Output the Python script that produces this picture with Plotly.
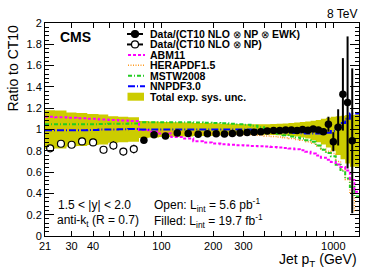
import math
import plotly.graph_objects as go

# ---------------- data ----------------
edges = [21, 24, 28, 32, 37, 43, 49, 56, 64, 74, 84, 97, 114, 133, 153, 174, 196, 220, 245, 272,
         300, 330, 362, 395, 430, 468, 507, 548, 592, 638, 686, 737, 790, 846, 905, 967, 1032,
         1101, 1172, 1248, 1327, 1410]

open_vals = [0.823, 0.866, 0.857, 0.888, 0.879, 0.81, 0.85, 0.793, 0.816]
open_errs = [0.01, 0.01, 0.01, 0.01, 0.01, 0.035, 0.04, 0.035, 0.04]

filled_vals = [0.90, 0.95, 0.938, 0.967, 0.962, 0.955, 0.96, 0.96, 0.958, 0.962, 0.968, 0.972,
               0.975, 0.98, 0.985, 0.99, 0.99, 0.995, 0.995, 0.99, 1.0, 0.994, 1.005, 0.995,
               0.98, 1.05, 0.885, 1.02, 1.33, 1.254, 0.894]
filled_errs = [0.005] * 22 + [0.01, 0.015, 0.02, 0.07, 0.09, 0.17, 0.34, 0.62, 0.68]

abm11 = [1.12, 1.115, 1.11, 1.105, 1.10, 1.095, 1.09, 1.085, 1.08,
         0.995, 0.98, 0.963, 0.93, 0.915, 0.89, 0.878, 0.868, 0.862, 0.857, 0.853, 0.85, 0.846,
         0.843, 0.84, 0.836, 0.832, 0.827, 0.822, 0.815, 0.805, 0.79, 0.775, 0.755, 0.735,
         0.715, 0.695, 0.672, 0.648, 0.615, 0.525, 0.415]
herapdf = [1.0, 1.0, 1.0, 1.0, 1.0, 1.0, 1.0, 1.0, 1.0,
           0.99, 0.99, 0.985, 0.98, 0.975, 0.97, 0.965, 0.96, 0.958, 0.955, 0.953, 0.95, 0.948,
           0.945, 0.94, 0.935, 0.93, 0.922, 0.915, 0.907, 0.9, 0.885, 0.87, 0.845, 0.815,
           0.795, 0.775, 0.70, 0.62, 0.53, 0.40, 0.24]
mstw = [1.05, 1.05, 1.05, 1.05, 1.05, 1.052, 1.055, 1.055, 1.057,
        1.067, 1.067, 1.067, 1.067, 1.067, 1.065, 1.063, 1.06, 1.058, 1.055, 1.05, 1.045, 1.035,
        1.02, 1.0, 0.98, 0.96, 0.945, 0.935, 0.925, 0.915, 0.9, 0.885, 0.85, 0.81,
        0.78, 0.75, 0.67, 0.61, 0.54, 0.46, 0.37]
nnpdf = [0.994, 0.994, 0.994, 0.994, 0.995, 1.0, 1.0, 1.002, 1.005,
         1.0, 1.0, 1.0, 1.0, 1.0, 1.0, 1.0, 1.0, 1.0, 1.0, 1.0, 1.0, 0.998,
         0.995, 0.99, 0.985, 0.98, 0.975, 0.97, 0.968, 0.965, 0.962, 0.962, 0.962, 0.965,
         0.97, 0.985, 1.03, 1.06, 1.10, 1.15, 1.15]
unc_up = [0.18, 0.178, 0.16, 0.155, 0.145, 0.14, 0.125, 0.12, 0.115,
          0.08, 0.075, 0.07, 0.068, 0.065, 0.062, 0.06, 0.058, 0.055, 0.053, 0.052, 0.05, 0.05,
          0.05, 0.05, 0.052, 0.054, 0.056, 0.06, 0.065, 0.07, 0.075, 0.082, 0.09, 0.10,
          0.11, 0.12, 0.125, 0.13, 0.135, 0.135, 0.14]
unc_dn = [0.18, 0.178, 0.16, 0.155, 0.145, 0.14, 0.125, 0.12, 0.115,
          0.08, 0.075, 0.07, 0.068, 0.065, 0.062, 0.06, 0.058, 0.055, 0.053, 0.052, 0.05, 0.05,
          0.05, 0.05, 0.052, 0.054, 0.056, 0.06, 0.065, 0.075, 0.085, 0.10, 0.12, 0.14,
          0.17, 0.20, 0.24, 0.28, 0.32, 0.35, 0.35]

x_ticks = [21, 30, 40, 100, 200, 300, 1000]
x_minor = [50, 60, 70, 80, 90, 400, 500, 600, 700, 800, 900]
x_major_long = [100, 1000]

# ---------------- derived ----------------
centers = [(edges[i] + edges[i + 1]) / 2 for i in range(len(edges) - 1)]
n_open = len(open_vals)
x_open = centers[:n_open]
x_fill = centers[n_open:n_open + len(filled_vals)]


def step_y(vals):
    return list(vals) + [vals[-1]]


BAND = "rgb(204,204,0)"
MAG = "#ff00ff"
ORA = "#ff9a1f"
GRN = "#22cc22"
BLU = "#0000ff"

fig = go.Figure()

# uncertainty band
fig.add_trace(go.Scatter(x=edges, y=step_y([1 - d for d in unc_dn]), mode="lines",
                         line=dict(width=0, shape="hv", color=BAND), showlegend=False, hoverinfo="skip"))
fig.add_trace(go.Scatter(x=edges, y=step_y([1 + u for u in unc_up]), mode="lines",
                         line=dict(width=0, shape="hv", color=BAND), fill="tonexty",
                         fillcolor=BAND, showlegend=False, hoverinfo="skip"))

# theory curves
styles = [
    (herapdf, ORA, "1px,1.5px", 1.5),
    (mstw, GRN, "4px,2px,1px,2px", 2),
    (abm11, MAG, "3px,2px", 2),
    (nnpdf, BLU, "7px,2px,1px,2px", 2),
]
for vals, col, dash, w in styles:
    fig.add_trace(go.Scatter(x=edges, y=step_y(vals), mode="lines",
                             line=dict(color=col, dash=dash, width=w, shape="hv"),
                             showlegend=False, hoverinfo="skip"))

# data
fig.add_trace(go.Scatter(x=x_open, y=open_vals, mode="markers",
                         error_y=dict(type="data", array=open_errs, color="black", thickness=1.5, width=0),
                         marker=dict(symbol="circle", size=7, color="white", line=dict(color="black", width=1.2)),
                         showlegend=False))
fig.add_trace(go.Scatter(x=x_fill, y=filled_vals, mode="markers",
                         error_y=dict(type="data", array=filled_errs, color="black", thickness=2, width=0),
                         marker=dict(symbol="circle", size=7.5, color="black"),
                         showlegend=False))

# ---------------- layout ----------------
L, R, T, B = 45, 15, 23, 34
W, H = 374, 270
PW, PH = W - L - R, H - T - B


def xp(px):
    return (px - L) / PW


def yp(py):
    return (H - B - py) / PH


FONT = "Liberation Sans, Arial, Helvetica, sans-serif"
xr = [math.log10(edges[0]), math.log10(edges[-1])]

fig.update_layout(
    width=W, height=H, margin=dict(l=L, r=R, t=T, b=B, autoexpand=False),
    paper_bgcolor="white", plot_bgcolor="white",
    font=dict(family=FONT, size=11, color="black"),
    showlegend=False,
    xaxis=dict(type="log", range=xr, tickmode="array", tickvals=x_ticks, ticktext=[str(v) for v in x_ticks],
               ticks="inside", ticklen=5, tickcolor="black", showline=True, linecolor="black", linewidth=1,
               mirror="allticks", showgrid=False, zeroline=False, tickfont=dict(size=11),
               minor=dict(tickmode="array", tickvals=x_minor, ticks="inside", ticklen=5, tickcolor="black",
                          showgrid=False)),
    xaxis2=dict(type="log", range=xr, overlaying="x", anchor="y", side="bottom", tickmode="array",
                tickvals=x_major_long, ticks="inside", ticklen=9, tickcolor="black", showticklabels=False,
                showline=False, mirror="allticks", showgrid=False, zeroline=False),
    yaxis=dict(range=[0, 2], dtick=0.2, ticks="inside", ticklen=9, tickcolor="black", showline=True,
               linecolor="black", linewidth=1, mirror="allticks", showgrid=False, zeroline=False,
               tickfont=dict(size=11),
               minor=dict(dtick=0.04, ticks="inside", ticklen=4, tickcolor="black", showgrid=False)),
)

ann = []
ann.append(dict(text="8 TeV", x=1, y=yp(14), xref="paper", yref="paper", xanchor="right", yanchor="middle",
                showarrow=False, font=dict(size=12)))
ann.append(dict(text="<b>CMS</b>", x=xp(58), y=yp(37), xref="paper", yref="paper", xanchor="left",
                yanchor="middle", showarrow=False, font=dict(size=14)))
ann.append(dict(text="Ratio to CT10", x=xp(12), y=1, xref="paper", yref="paper", xanchor="center",
                yanchor="top", textangle=-90, showarrow=False, font=dict(size=14)))
ann.append(dict(text="Jet p<sub>T</sub> (GeV)", x=1, y=yp(260), xref="paper", yref="paper", xanchor="right",
                yanchor="middle", showarrow=False, font=dict(size=14)))
ann.append(dict(text="1.5 < |y| < 2.0", x=xp(56), y=yp(205), xref="paper", yref="paper", xanchor="left",
                yanchor="middle", showarrow=False, font=dict(size=12)))
ann.append(dict(text="anti-k<sub>t</sub> (R = 0.7)", x=xp(55), y=yp(221), xref="paper", yref="paper",
                xanchor="left", yanchor="middle", showarrow=False, font=dict(size=12)))
ann.append(dict(text="Open: L<sub>int</sub> = 5.6 pb<sup>-1</sup>", x=xp(152), y=yp(205), xref="paper",
                yref="paper", xanchor="left", yanchor="middle", showarrow=False, font=dict(size=12)))
ann.append(dict(text="Filled: L<sub>int</sub> = 19.7 fb<sup>-1</sup>", x=xp(152), y=yp(221), xref="paper",
                yref="paper", xanchor="left", yanchor="middle", showarrow=False, font=dict(size=12)))

OT = "<span style='font-size:10px;font-weight:normal'>\u2297</span>"
legend_labels = ["Data/(CT10 NLO " + OT + " NP " + OT + " EWK)", "Data/(CT10 NLO " + OT + " NP)", "ABM11",
                 "HERAPDF1.5", "MSTW2008", "NNPDF3.0", "Total exp. sys. unc."]
row_y = [34 + 10.45 * i for i in range(len(legend_labels))]
shapes = []
for i, (lab, ry) in enumerate(zip(legend_labels, row_y)):
    ann.append(dict(text="<b>%s</b>" % lab, x=xp(148), y=yp(ry), xref="paper", yref="paper", xanchor="left",
                    yanchor="middle", showarrow=False, font=dict(size=10.5)))
    if i in (0, 1):
        shapes.append(dict(type="line", xref="paper", yref="paper", x0=xp(127), x1=xp(143), y0=yp(ry), y1=yp(ry),
                           line=dict(color="black", width=2)))
        shapes.append(dict(type="circle", xref="paper", yref="paper", x0=xp(131.5), x1=xp(138.5),
                           y0=yp(ry + 3.5), y1=yp(ry - 3.5),
                           fillcolor="black" if i == 0 else "white", line=dict(color="black", width=1.2)))
    elif i == 6:
        shapes.append(dict(type="rect", xref="paper", yref="paper", x0=xp(127.5), x1=xp(144), y0=yp(ry + 4),
                           y1=yp(ry - 4), fillcolor=BAND, line=dict(width=0)))
    else:
        vals, col, dash, w = {2: styles[2], 3: styles[0], 4: styles[1], 5: styles[3]}[i]
        shapes.append(dict(type="line", xref="paper", yref="paper", x0=xp(128), x1=xp(145), y0=yp(ry), y1=yp(ry),
                           line=dict(color=col, width=w, dash=dash)))

fig.update_layout(annotations=ann, shapes=shapes)
fig.write_html("out.html", config={"displayModeBar": False},
               post_script="document.body.style.margin='0px';document.body.style.padding='0px';")
